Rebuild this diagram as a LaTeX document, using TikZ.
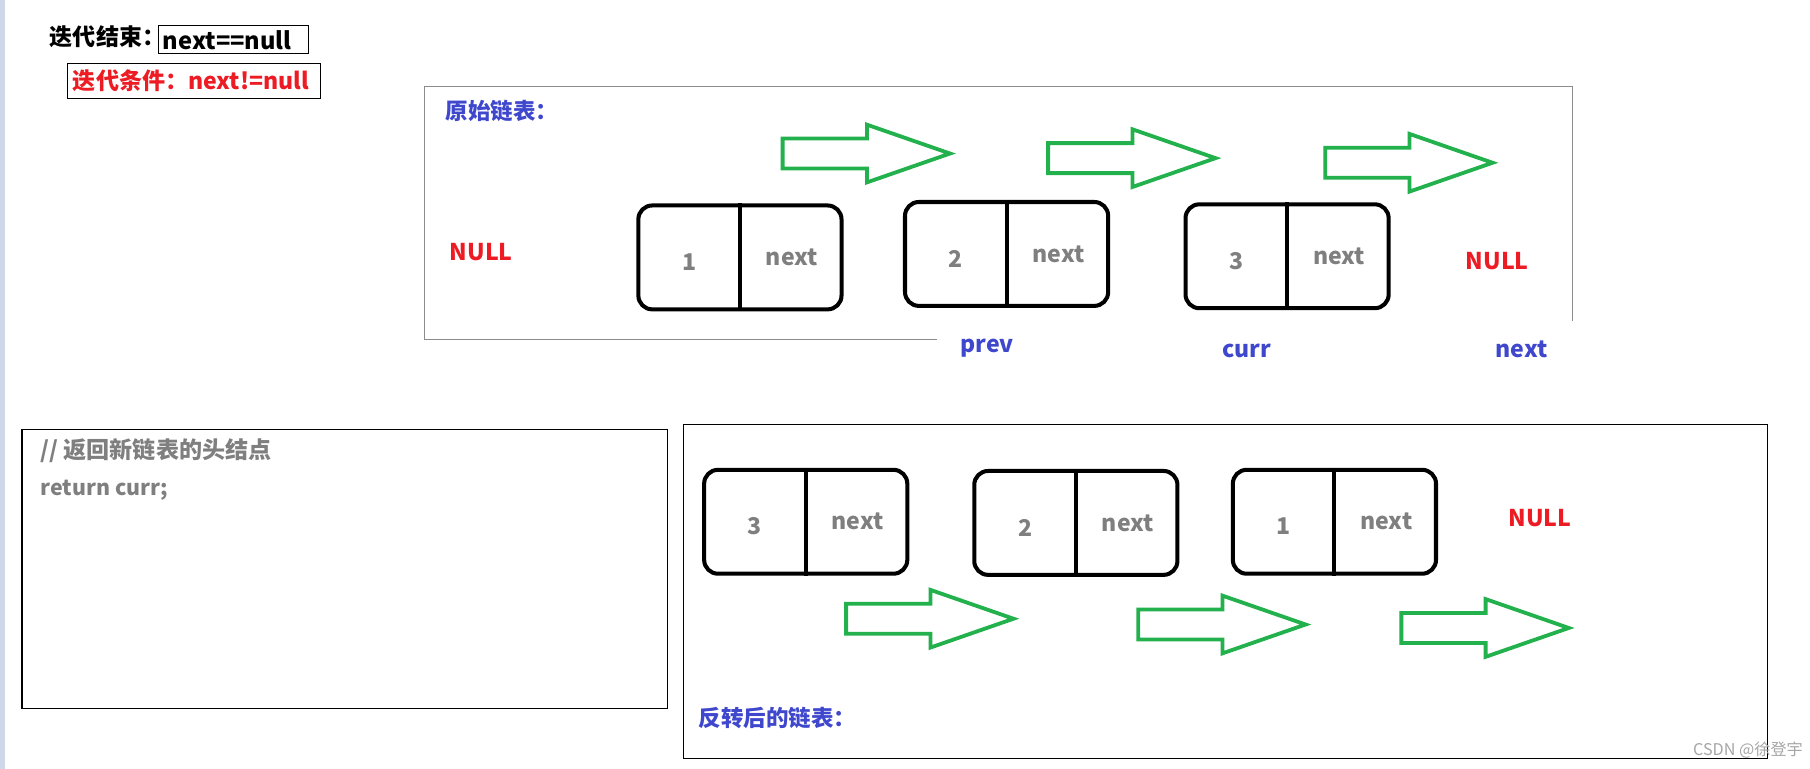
\documentclass[tikz,border=0pt]{standalone}
\usepackage{fontspec}
\setmainfont{Noto Sans CJK SC}

\definecolor{paintgreen}{HTML}{22B14C}
\definecolor{paintblue}{HTML}{3F48CC}
\definecolor{paintred}{HTML}{ED1C24}
\definecolor{codegray}{HTML}{7F7F7F}
\definecolor{stripblue}{HTML}{CFD8E8}

\tikzset{
  listbox/.style={draw,line width=3.5pt,rounded corners=12pt,minimum width=176pt,minimum height=90pt,inner sep=0pt},
  celltext/.style={text=codegray,font=\bfseries\fontsize{20}{24}\selectfont,inner sep=0pt},
  nulltext/.style={text=paintred,font=\bfseries\fontsize{20}{24}\selectfont,inner sep=0pt},
  pointer/.style={text=paintblue,font=\bfseries\fontsize{20}{24}\selectfont,inner sep=0pt},
  listtitle/.style={text=paintblue,font=\bfseries\fontsize{19.5}{23}\selectfont,anchor=west,inner sep=0pt},
  condbox/.style={draw,line width=1pt,anchor=west,inner sep=0pt},
  blockarrow/.style={draw=paintgreen,line width=3.3pt},
}

\begin{document}
\begin{tikzpicture}[x=1pt,y=-1pt]
  \useasboundingbox (0,0) rectangle (1568,666);
  \fill[stripblue] (0,0) rectangle (4,666);

  % loop conditions
  \node[anchor=west,inner sep=0pt,font=\bfseries\fontsize{20}{24}\selectfont] (endlabel) at (43,32) {迭代结束：};
  \node[condbox,minimum width=130pt,minimum height=24pt] (endcond) at (137,34) {};
  \node[anchor=west,inner sep=0pt,font=\bfseries\fontsize{20.5}{24}\selectfont] (endtext) at (141,35) {next==null};
  \node[condbox,minimum width=219pt,minimum height=30pt] (loopcond) at (58,70) {};
  \node[anchor=west,inner sep=0pt,text=paintred,font=\bfseries\fontsize{20}{24}\selectfont] (looptext) at (63,70) {迭代条件：next!=null};

  % frames
  \draw[codegray!90,line width=1pt] (812,294) -- (368,294) -- (368,75) -- (1362,75) -- (1362,278);
  \draw[line width=1pt] (19,372) rectangle (578,614);
  \draw[line width=1pt] (592,368) rectangle (1531,657);

  \node[listtitle] (oldtitle) at (386,96) {原始链表：};
  \node[listtitle] (newtitle) at (605,622) {反转后的链表：};

  % list nodes
  \foreach \name/\x/\y/\val in {a1/641/223/1,a2/872/220/2,a3/1115/222/3,b3/698/452/3,b2/932/453/2,b1/1156/452/1}{
    \node[listbox] (\name) at (\x,\y) {};
    \draw[line width=3.5pt] (\name.north) -- (\name.south);
    \node[celltext] (\name-val) at ([shift={(-44,4)}]\name.center) {\val};
    \node[celltext] (\name-nx) at ([shift={(45,0)}]\name.center) {next};
  }

  \node[nulltext] (null0) at (417,218) {NULL};
  \node[nulltext] (null1) at (1297,226) {NULL};
  \node[nulltext] (null2) at (1334,449) {NULL};

  \node[pointer] (prev) at (855,302) {prev};
  \node[pointer] (curr) at (1080,304) {curr};
  \node[pointer] (next) at (1318,303) {next};

  % green block arrows
  \foreach \x/\y in {678/133,908/137,1148/141,733/536,986/541,1214/544}{
    \begin{scope}[shift={(\x,\y)}]
      \draw[blockarrow] (0,-13) -- (73,-13) -- (73,-25) -- (145,0) -- (73,25) -- (73,13) -- (0,13) -- cycle;
    \end{scope}
  }

  % code
  \node[anchor=west,inner sep=0pt,text=codegray,font=\bfseries\fontsize{20}{24}\selectfont] (comment) at (35,390) {// 返回新链表的头结点};
  \node[anchor=west,inner sep=0pt,text=codegray,font=\bfseries\fontsize{18.5}{22}\selectfont] (code) at (35,425) {return curr;};

  \node[anchor=east,inner sep=0pt,text=black!35,font=\fontsize{14}{16}\selectfont] (mark) at (1562,650) {CSDN @徐登宇};
\end{tikzpicture}
\end{document}
